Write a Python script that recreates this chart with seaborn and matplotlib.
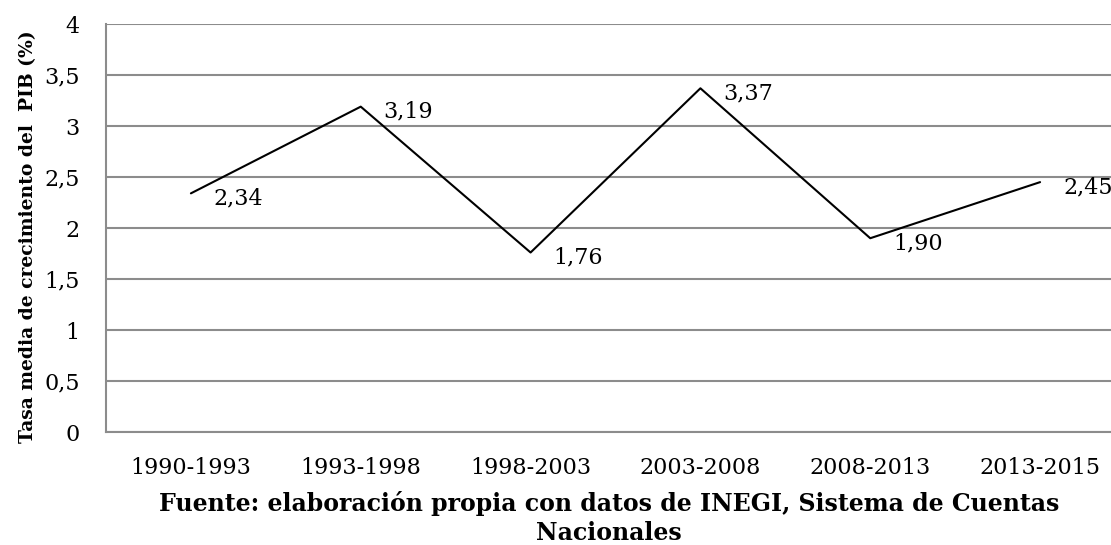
import matplotlib
matplotlib.use("Agg")
import matplotlib.pyplot as plt
import seaborn as sns
import pandas as pd

periodos = ["1990-1993", "1993-1998", "1998-2003", "2003-2008", "2008-2013", "2013-2015"]
tasa = [2.34, 3.19, 1.76, 3.37, 1.90, 2.45]
etiquetas = ["2,34", "3,19", "1,76", "3,37", "1,90", "2,45"]
y_ticks = [0, 0.5, 1, 1.5, 2, 2.5, 3, 3.5, 4]
y_tick_labels = ["0", "0,5", "1", "1,5", "2", "2,5", "3", "3,5", "4"]

df = pd.DataFrame({"periodo": periodos, "tasa": tasa})

sns.set_style("white")
plt.rcParams['font.family'] = ['DejaVu Serif']
plt.rcParams['text.color'] = 'black'
plt.rcParams['xtick.color'] = 'black'
plt.rcParams['ytick.color'] = 'black'
plt.rcParams['axes.labelcolor'] = 'black'

fig = plt.figure(figsize=(11.11, 5.45), dpi=100)
# the original chart is cut on the right, so the axes run past the figure edge
ax = fig.add_axes([0.0954, 0.2073, 0.9172, 0.7486])

sns.lineplot(data=df, x="periodo", y="tasa", color="black", linewidth=1.5, ax=ax, sort=False)

# etiquetas de datos a la derecha de cada punto
for i, (v, lab) in enumerate(zip(tasa, etiquetas)):
    ax.annotate(lab, (i, v), xytext=(16.5, -3.5), textcoords="offset points",
                ha="left", va="center", fontsize=16)

ax.set_ylim(0, 4)
ax.set_xlim(-0.5, 5.5)
ax.set_yticks(y_ticks)
ax.set_yticklabels(y_tick_labels, fontsize=16)
ax.set_xticks(range(len(periodos)))
ax.set_xticklabels(periodos, fontsize=16)
ax.set_xticks([i - 0.5 for i in range(len(periodos) + 1)], minor=True)
ax.tick_params(axis="x", which="major", length=0, pad=18)
ax.tick_params(axis="x", which="minor", length=7, color="#8c8c8c", width=1.5)
ax.tick_params(axis="y", length=7, color="#8c8c8c", labelcolor="black", width=1.5, pad=12)
ax.grid(axis="y", color="#8c8c8c", linewidth=1.5)
ax.set_axisbelow(True)

for s in ["top", "right"]:
    ax.spines[s].set_visible(False)
for s in ["left", "bottom"]:
    ax.spines[s].set_color("#8c8c8c")
    ax.spines[s].set_linewidth(1.5)

ax.set_ylabel("Tasa media de crecimiento del  PIB (%)", fontsize=13.5, fontweight="bold")
ax.yaxis.set_label_coords(-0.068, 0.48)
ax.set_xlabel("Fuente: elaboración propia con datos de INEGI, Sistema de Cuentas\nNacionales",
              fontsize=17, fontweight="bold", linespacing=1.25)
ax.xaxis.set_label_coords(0.4935, -0.145)

fig.savefig("out.png", dpi=100)
